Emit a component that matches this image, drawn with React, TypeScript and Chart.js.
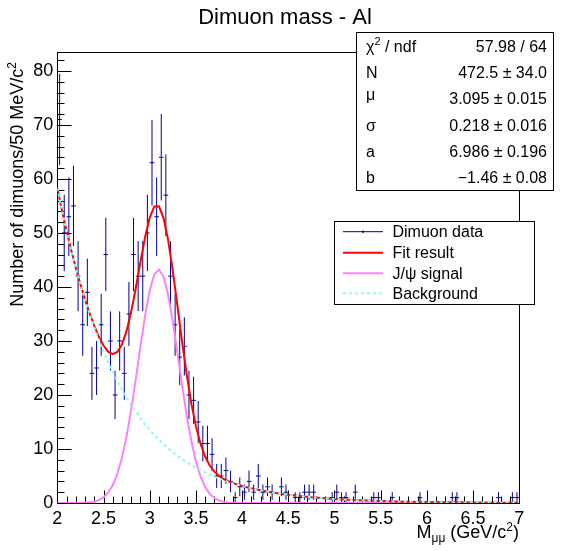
import React, { useEffect, useRef } from "react";
import { Chart, registerables } from "chart.js";

Chart.register(...registerables);

// ---------------- data ----------------
const BIN_LOW = 2.0;
const BIN_WIDTH = 0.05;

// Dimuon counts per 50 MeV bin, 2.00 .. 7.00 GeV/c^2 (100 bins)
const counts: number[] = [
  71, 50, 53, 55, 42, 33, 39, 24, 25, 33,
  46, 30, 20, 30, 24, 35, 46, 42, 42, 50,
  63, 53, 64, 57, 42, 33, 27, 29, 20, 19,
  15, 11, 11, 9, 5, 5, 6, 4, 1, 3,
  2, 4, 2, 5, 2, 3, 2, 0, 3, 2,
  0, 1, 1, 2, 2, 2, 0, 0, 0, 1,
  2, 1, 1, 0, 2, 0, 0, 0, 1, 1,
  0, 0, 1, 0, 0, 0, 0, 0, 1, 0,
  0, 0, 0, 0, 0, 1, 1, 0, 0, 0,
  0, 0, 0, 0, 0, 1, 0, 0, 1, 1,
];

// sample positions of the drawn curves (GeV/c^2)
const curveX: number[] = [
  2.0, 2.05, 2.1, 2.15, 2.2, 2.25, 2.3, 2.35, 2.4, 2.45,
  2.5, 2.55, 2.6, 2.65, 2.7, 2.75, 2.8, 2.85, 2.9, 2.95,
  3.0, 3.05, 3.1, 3.15, 3.2, 3.25, 3.3, 3.35, 3.4, 3.45,
  3.5, 3.55, 3.6, 3.65, 3.7, 3.75, 3.8, 3.85, 3.9, 3.95,
  4.0, 4.05, 4.1, 4.15, 4.2, 4.25, 4.3, 4.35, 4.4, 4.45,
  4.5, 4.75, 5.0, 5.25, 5.5, 5.75, 6.0, 6.25, 6.5, 6.75, 7.0,
];

const fitY: number[] = [
  58.32, 54.22, 50.4, 46.85, 43.56, 40.51, 37.7, 35.12, 32.79, 30.77,
  29.15, 28.03, 27.57, 27.97, 29.36, 31.87, 35.44, 39.85, 44.65, 49.22,
  52.86, 54.91, 54.93, 52.76, 48.62, 42.98, 36.52, 29.94, 23.81, 18.5,
  14.23, 10.97, 8.6, 6.94, 5.8, 5.0, 4.44, 4.03, 3.69, 3.41,
  3.16, 2.93, 2.72, 2.53, 2.35, 2.19, 2.03, 1.89, 1.76, 1.63,
  1.52, 1.06, 0.73, 0.51, 0.35, 0.25, 0.17, 0.12, 0.08, 0.06, 0.04,
];

const signalY: number[] = [
  0, 0, 0, 0, 0.01, 0.02, 0.06, 0.13, 0.27, 0.54,
  1.04, 1.9, 3.28, 5.39, 8.37, 12.36, 17.3, 22.99, 28.98, 34.65,
  39.31, 42.32, 43.22, 41.88, 38.5, 33.58, 27.78, 21.81, 16.25, 11.48,
  7.7, 4.9, 2.96, 1.69, 0.92, 0.47, 0.23, 0.11, 0.05, 0.02,
  0.01, 0, 0, 0, 0, 0, 0, 0, 0, 0,
  0, 0, 0, 0, 0, 0, 0, 0, 0, 0, 0,
];

const backgroundY: number[] = [
  58.32, 54.22, 50.4, 46.85, 43.55, 40.49, 37.64, 34.99, 32.52, 30.23,
  28.11, 26.13, 24.29, 22.58, 20.99, 19.51, 18.14, 16.86, 15.67, 14.57,
  13.55, 12.59, 11.71, 10.88, 10.12, 9.4, 8.74, 8.13, 7.56, 7.02,
  6.53, 6.07, 5.64, 5.25, 4.88, 4.53, 4.21, 3.92, 3.64, 3.39,
  3.15, 2.93, 2.72, 2.53, 2.35, 2.19, 2.03, 1.89, 1.76, 1.63,
  1.52, 1.06, 0.73, 0.51, 0.35, 0.25, 0.17, 0.12, 0.08, 0.06, 0.04,
];

const xTicks: number[] = [2, 2.5, 3, 3.5, 4, 4.5, 5, 5.5, 6, 6.5, 7];
const yTicks: number[] = [0, 10, 20, 30, 40, 50, 60, 70, 80];

const statsLabels: string[] = ["χ2 / ndf", "N", "μ", "σ", "a", "b"];
const statsValues: string[] = [
  "57.98 / 64",
  "472.5 ± 34.0",
  "3.095 ± 0.015",
  "0.218 ± 0.016",
  "6.986 ± 0.196",
  "\u22121.46 ± 0.08",
];

const legendLabels: string[] = ["Dimuon data", "Fit result", "J/ψ signal", "Background"];

// ---------------- style ----------------
const FONT = '"Liberation Sans", Arial, Helvetica, sans-serif';
const DATA_COLOR = "#00008c";
const FIT_COLOR = "#ff0000";
const SIG_COLOR = "#ff80ff";
const BKG_COLOR = "#80ffff";

type Run = { t: string; size: number; dy?: number };

function drawRuns(
  ctx: CanvasRenderingContext2D,
  runs: Run[],
  x: number,
  y: number,
  align: "left" | "right" | "center"
) {
  ctx.textAlign = "left";
  ctx.textBaseline = "alphabetic";
  const widths = runs.map((r) => {
    ctx.font = `${r.size}px ${FONT}`;
    return ctx.measureText(r.t).width;
  });
  const total = widths.reduce((a, b) => a + b, 0);
  let cx = align === "left" ? x : align === "right" ? x - total : x - total / 2;
  runs.forEach((r, i) => {
    ctx.font = `${r.size}px ${FONT}`;
    ctx.fillText(r.t, cx, y + (r.dy || 0));
    cx += widths[i];
  });
}

const snap = (v: number) => Math.round(v) + 0.5;

const rootPlugin = {
  id: "rootDecor",
  beforeDatasetsDraw(chart: any) {
    const { ctx, chartArea: a } = chart;
    const xs = chart.scales.x;
    const ys = chart.scales.y;
    ctx.save();
    // frame
    ctx.strokeStyle = "#000";
    ctx.lineWidth = 1;
    const L = snap(a.left), R = snap(a.right), T = snap(a.top), B = snap(a.bottom);
    ctx.strokeRect(L, T, R - L, B - T);
    // y ticks (inside)
    ctx.beginPath();
    for (let v = 0; v <= ys.max + 1e-9; v += 2) {
      const py = snap(ys.getPixelForValue(v));
      const len = v % 10 === 0 ? 14 : 7;
      ctx.moveTo(L, py);
      ctx.lineTo(L + len, py);
    }
    // x ticks (inside)
    for (let k = 0; k <= 50; k++) {
      const v = xs.min + k * 0.1;
      const px = snap(xs.getPixelForValue(v));
      const len = k % 5 === 0 ? 13 : 7;
      ctx.moveTo(px, B);
      ctx.lineTo(px, B - len);
    }
    ctx.stroke();

    // histogram error bars
    ctx.beginPath();
    ctx.rect(a.left, a.top, a.right - a.left, a.bottom - a.top);
    ctx.clip();
    ctx.strokeStyle = DATA_COLOR;
    ctx.lineWidth = 1;
    ctx.beginPath();
    counts.forEach((n, i) => {
      if (n <= 0) return;
      const c = BIN_LOW + (i + 0.5) * BIN_WIDTH;
      const e = Math.sqrt(n);
      const px = xs.getPixelForValue(c);
      ctx.moveTo(px, ys.getPixelForValue(n + e));
      ctx.lineTo(px, ys.getPixelForValue(n - e));
      const py = ys.getPixelForValue(n);
      ctx.moveTo(xs.getPixelForValue(c - BIN_WIDTH / 2), py);
      ctx.lineTo(xs.getPixelForValue(c + BIN_WIDTH / 2), py);
    });
    ctx.stroke();
    ctx.restore();
  },
  afterDraw(chart: any) {
    const { ctx } = chart;
    ctx.save();
    ctx.fillStyle = "#000";

    // title
    ctx.font = `22px ${FONT}`;
    ctx.textAlign = "center";
    ctx.textBaseline = "alphabetic";
    ctx.fillText("Dimuon mass - Al", 285, 24);

    // x axis title
    drawRuns(
      ctx,
      [
        { t: "M", size: 18 },
        { t: "μμ", size: 12, dy: 4 },
        { t: " (GeV/c", size: 18 },
        { t: "2", size: 12, dy: -7 },
        { t: ")", size: 18 },
      ],
      519,
      538,
      "right"
    );

    // y axis title
    ctx.save();
    ctx.translate(23, 62);
    ctx.rotate(-Math.PI / 2);
    drawRuns(
      ctx,
      [
        { t: "Number of dimuons/50 MeV/c", size: 18 },
        { t: "2", size: 12, dy: -7 },
      ],
      0,
      0,
      "right"
    );
    ctx.restore();

    // stats box
    const sx0 = 356.5, sy0 = 32.5, sx1 = 553.5, sy1 = 190.5;
    ctx.fillStyle = "#fff";
    ctx.fillRect(sx0, sy0, sx1 - sx0, sy1 - sy0);
    ctx.strokeStyle = "#000";
    ctx.lineWidth = 1;
    ctx.strokeRect(sx0, sy0, sx1 - sx0, sy1 - sy0);
    ctx.fillStyle = "#000";
    const rowH = (sy1 - sy0) / statsLabels.length;
    statsLabels.forEach((lab, i) => {
      const base = sy0 + rowH * (i + 0.5) + 6;
      if (i === 0) {
        drawRuns(
          ctx,
          [
            { t: "χ", size: 16 },
            { t: "2", size: 11, dy: -7 },
            { t: " / ndf", size: 16 },
          ],
          366,
          base,
          "left"
        );
      } else {
        drawRuns(ctx, [{ t: lab, size: 16, dy: lab === "μ" ? -4 : 0 }], 366, base, "left");
      }
      drawRuns(ctx, [{ t: statsValues[i], size: 16 }], 547, base, "right");
    });

    // legend
    const lx0 = 334.5, ly0 = 221.5, lx1 = 534.5, ly1 = 304.5;
    ctx.fillStyle = "#fff";
    ctx.fillRect(lx0, ly0, lx1 - lx0, ly1 - ly0);
    ctx.strokeStyle = "#000";
    ctx.lineWidth = 1;
    ctx.strokeRect(lx0, ly0, lx1 - lx0, ly1 - ly0);
    const rowY = [231.7, 252.7, 273.3, 293.3];
    const colors = [DATA_COLOR, FIT_COLOR, SIG_COLOR, BKG_COLOR];
    legendLabels.forEach((lab, i) => {
      const y = rowY[i];
      ctx.save();
      ctx.strokeStyle = colors[i];
      ctx.lineWidth = i === 0 ? 1 : 2;
      if (i === 3) ctx.setLineDash([3, 3]);
      ctx.beginPath();
      ctx.moveTo(343, y);
      ctx.lineTo(383, y);
      ctx.stroke();
      ctx.restore();
      if (i === 0) {
        ctx.fillStyle = DATA_COLOR;
        ctx.fillRect(362, y - 1, 2, 2);
      }
      ctx.fillStyle = "#000";
      ctx.font = `16px ${FONT}`;
      ctx.textAlign = "left";
      ctx.textBaseline = "middle";
      ctx.fillText(lab, 392.5, y + 1);
    });

    ctx.restore();
  },
};

export default function App() {
  const ref = useRef<HTMLCanvasElement>(null);
  useEffect(() => {
    if (!ref.current) return;
    const line = (ys: number[]) => curveX.map((x, i) => ({ x, y: ys[i] }));
    const chart = new Chart(ref.current, {
      type: "scatter",
      data: {
        datasets: [
          {
            label: "Background",
            data: line(backgroundY),
            showLine: true,
            borderColor: BKG_COLOR,
            borderWidth: 2,
            borderDash: [3, 3],
            pointRadius: 0,
            order: 0,
          },
          {
            label: "Fit result",
            data: line(fitY),
            showLine: true,
            borderColor: FIT_COLOR,
            borderWidth: 2,
            pointRadius: 0,
            order: 1,
          },
          {
            label: "J/ψ signal",
            data: line(signalY),
            showLine: true,
            borderColor: SIG_COLOR,
            borderWidth: 2,
            pointRadius: 0,
            order: 2,
          },
          {
            label: "Dimuon data",
            data: counts.map((n, i) => ({ x: BIN_LOW + (i + 0.5) * BIN_WIDTH, y: n })),
            showLine: false,
            pointRadius: 0,
            order: 3,
          },
        ],
      },
      options: {
        responsive: false,
        animation: false,
        devicePixelRatio: 1,
        layout: { padding: { left: 0, top: 52, right: 43.7, bottom: 0 } },
        plugins: {
          legend: { display: false },
          title: { display: false },
          tooltip: { enabled: false },
        },
        scales: {
          x: {
            type: "linear",
            min: 2,
            max: 7,
            grid: { display: false, drawTicks: false },
            border: { display: false },
            afterBuildTicks: (s: any) => {
              s.ticks = xTicks.map((v) => ({ value: v }));
            },
            afterFit: (s: any) => {
              s.height = 48;
            },
            ticks: {
              color: "#000",
              font: { family: FONT, size: 18 },
              padding: 5,
              maxRotation: 0,
              autoSkip: false,
              callback: (v: any) => String(v),
            },
          },
          y: {
            type: "linear",
            min: 0,
            max: 83.5,
            grid: { display: false, drawTicks: false },
            border: { display: false },
            afterBuildTicks: (s: any) => {
              s.ticks = yTicks.map((v) => ({ value: v }));
            },
            afterFit: (s: any) => {
              s.width = 57.3;
            },
            ticks: {
              color: "#000",
              font: { family: FONT, size: 18 },
              padding: 4,
              autoSkip: false,
              callback: (v: any) => String(v),
            },
          },
        },
      },
      plugins: [rootPlugin],
    } as any);
    return () => chart.destroy();
  }, []);

  return (
    <div
      style={{
        position: "fixed",
        left: 0,
        top: 0,
        width: 563,
        height: 551,
        background: "#fff",
      }}
    >
      <canvas ref={ref} width={563} height={551} style={{ display: "block", width: 563, height: 551 }} />
    </div>
  );
}
